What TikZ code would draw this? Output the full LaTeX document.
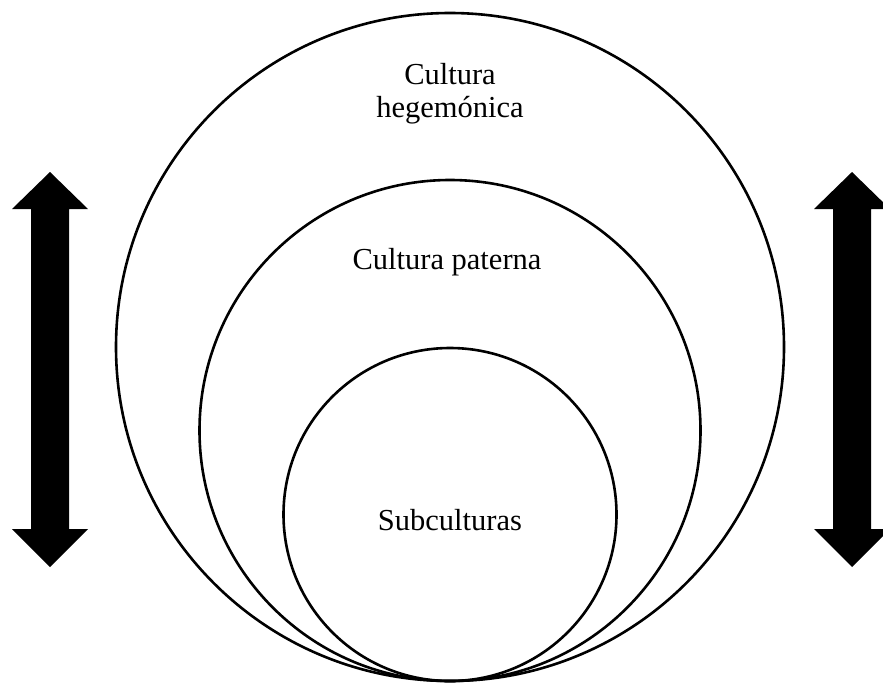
\documentclass[tikz,border=0pt]{standalone}
\usepackage{fontspec}
\setmainfont{Liberation Serif}
\begin{document}
\begin{tikzpicture}[x=1pt,y=-1pt,
  ring/.style={circle,draw=black,line width=2.6pt,inner sep=0pt,outer sep=0pt},
  label/.style={font=\fontsize{30.5}{33}\selectfont,align=center,inner sep=0pt},
  bigarrow/.style={fill=black}]
  \useasboundingbox (0,0) rectangle (883,683);
  \clip (0,0) rectangle (883,683);
  % three nested circles touching at the bottom point (450,681)
  \node[ring,minimum size=668pt] (outer) at (450,347) {};
  \node[ring,minimum size=501pt] (middle) at (450,430.5) {};
  \node[ring,minimum size=333pt] (inner) at (450,514.5) {};
  % labels
  \node[label] (heg) at (450,94) {Cultura\\hegemónica};
  \node[label] (pat) at (447,262) {Cultura paterna};
  \node[label] (sub) at (450,520) {Subculturas};
  % vertical double arrows on both sides
  \foreach \cx/\nm in {50/left,852/right}{
    \fill[bigarrow] (\cx,172) -- (\cx+38,209) -- (\cx+19,209) -- (\cx+19,529)
      -- (\cx+38,529) -- (\cx,567) -- (\cx-38,529) -- (\cx-19,529)
      -- (\cx-19,209) -- (\cx-38,209) -- cycle;
  }
\end{tikzpicture}
\end{document}
